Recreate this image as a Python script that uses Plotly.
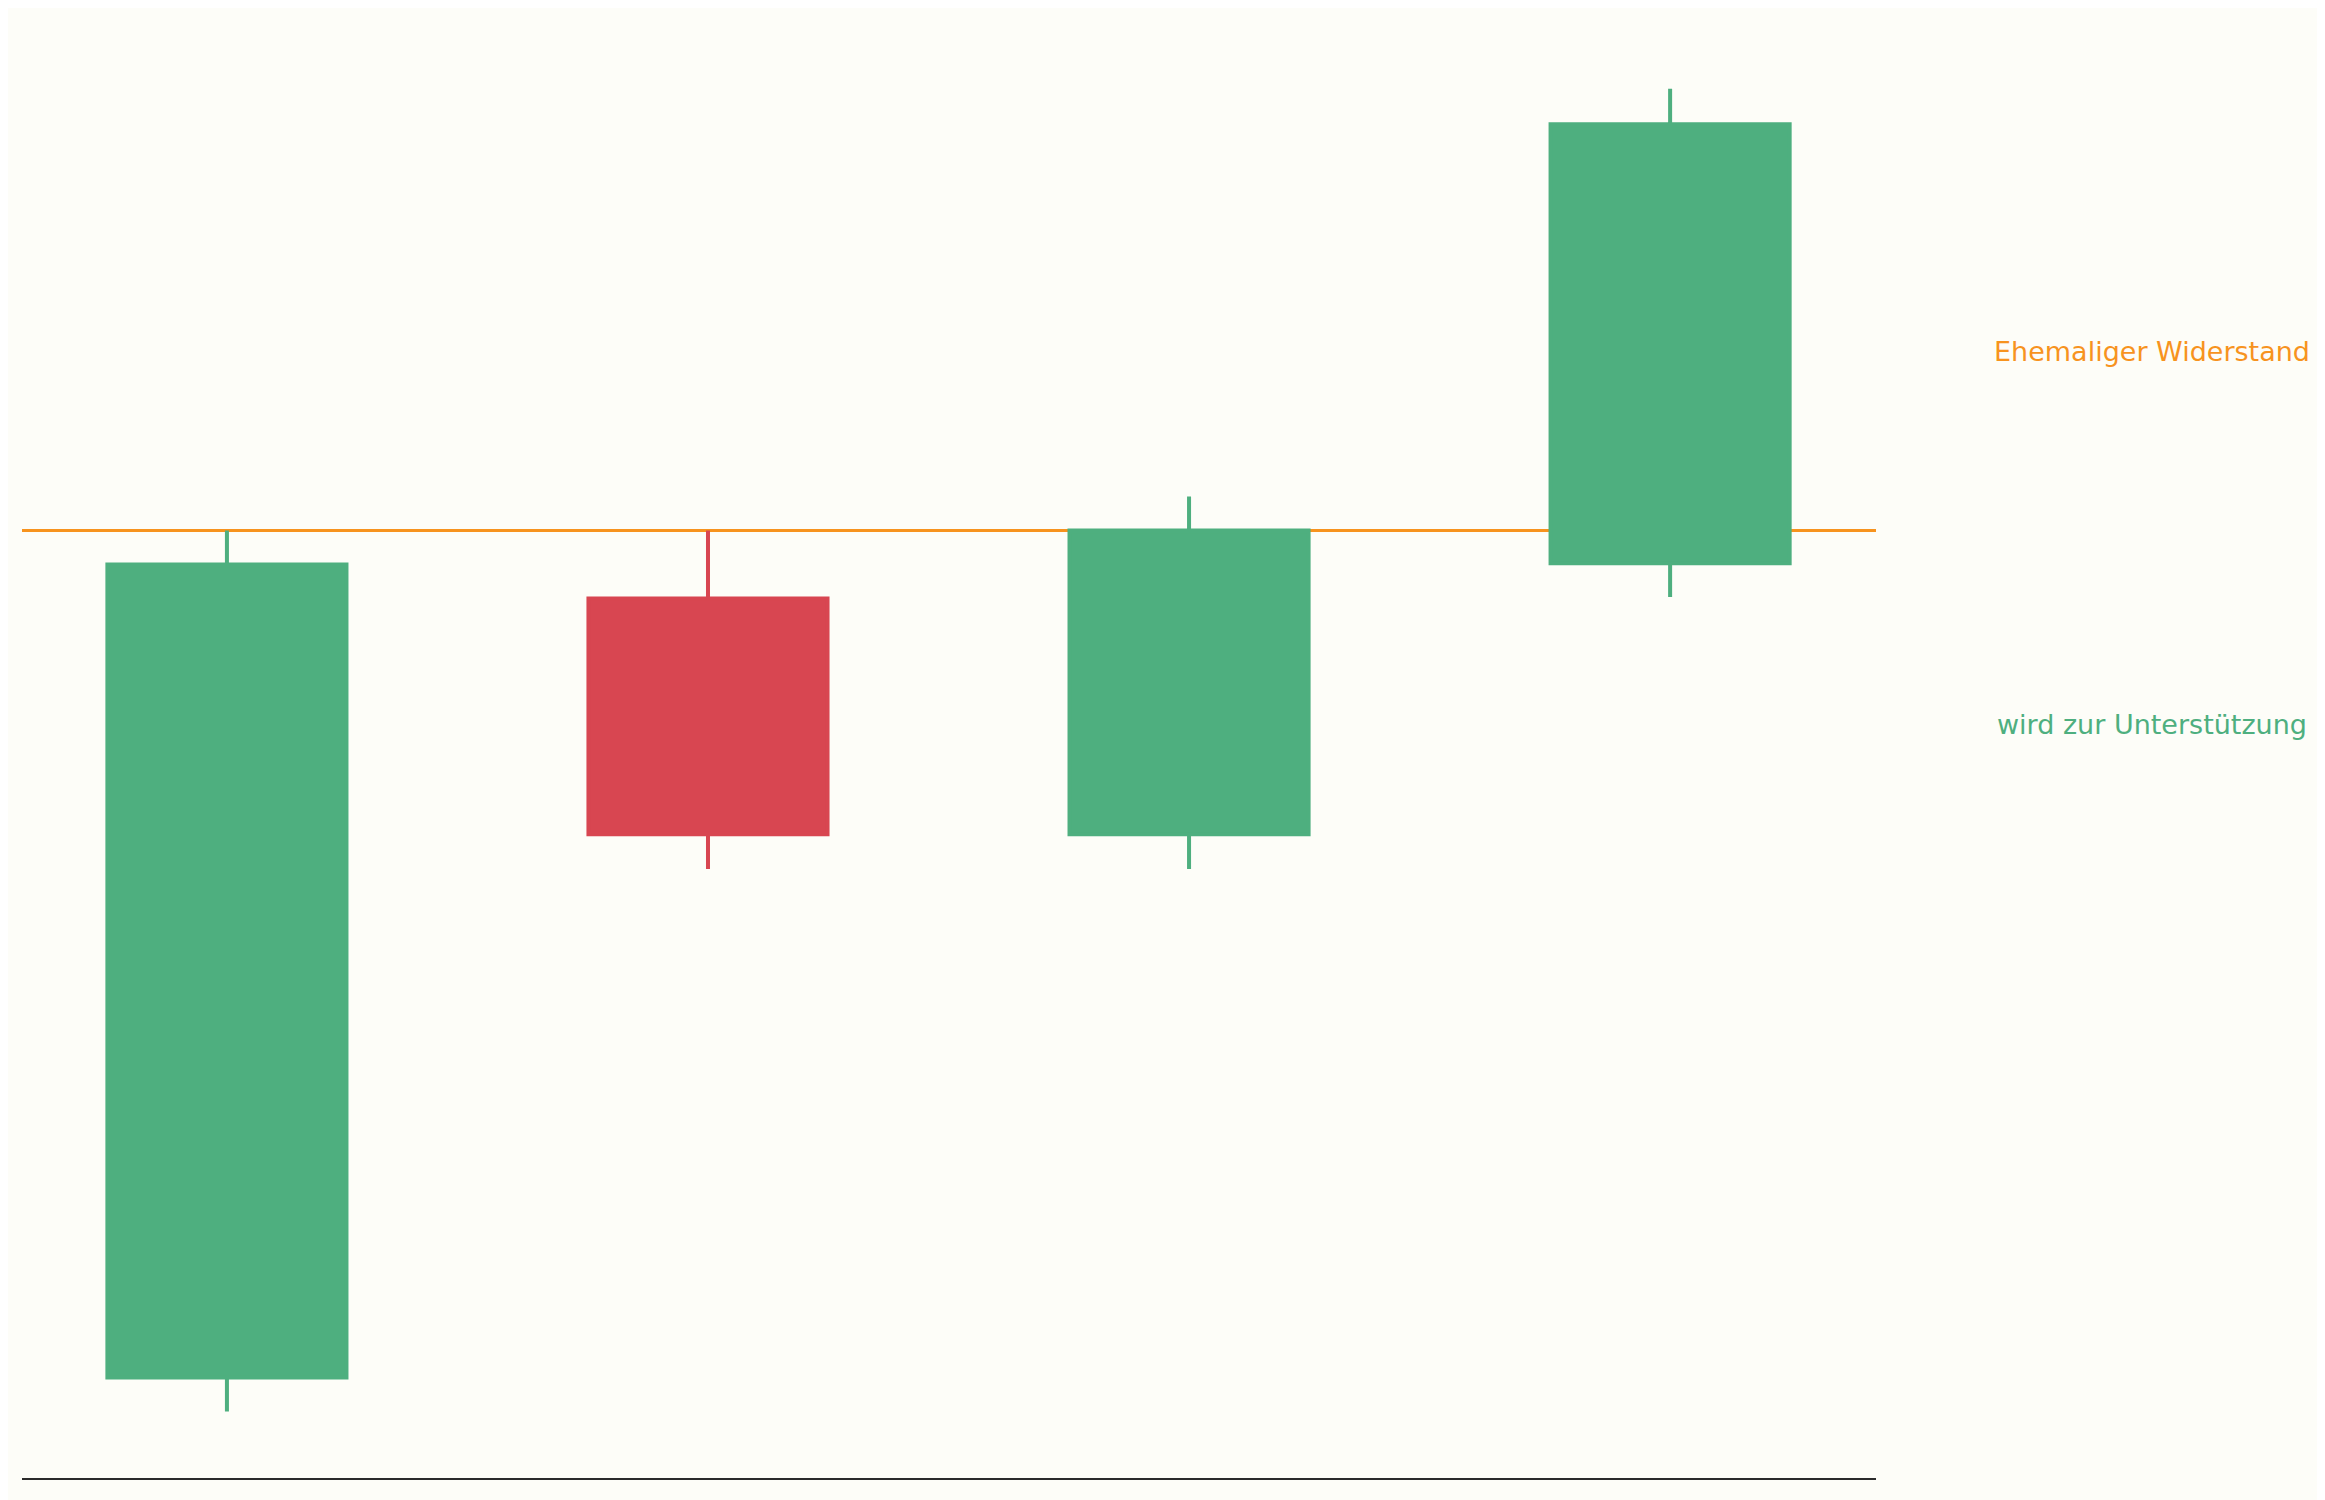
import plotly.graph_objects as go

# four candles, arbitrary price units
candles = [0, 1, 2, 3]
opens = [6.8, 59.5, 43.55, 61.9]
highs = [64.1, 64.1, 66.4, 94.0]
lows = [4.5, 41.2, 41.2, 59.6]
closes = [61.8, 43.55, 64.1, 91.6]

resistance = 64.1
label_texts = ["Ehemaliger Widerstand", "wird zur Unterstützung"]
label_levels = [76.25, 50.95]

green = "#4EAF7F"
red = "#D84651"
orange = "#F7931E"
bg = "#FDFDF8"

fig = go.Figure()

fig.add_trace(go.Candlestick(
    x=candles,
    open=opens,
    high=highs,
    low=lows,
    close=closes,
    increasing=dict(line=dict(color=green, width=4), fillcolor=green),
    decreasing=dict(line=dict(color=red, width=4), fillcolor=red),
    whiskerwidth=0,
    hoverinfo="skip",
    showlegend=False
))

fig.add_shape(
    type="line", xref="paper", x0=0, x1=1, y0=resistance, y1=resistance,
    line=dict(color=orange, width=3), layer="below"
)

fig.add_annotation(
    text=label_texts[0], xref="paper", x=1.1489, y=label_levels[0],
    xanchor="center", showarrow=False,
    font=dict(family="DejaVu Sans", size=27, color=orange)
)
fig.add_annotation(
    text=label_texts[1], xref="paper", x=1.1489, y=label_levels[1],
    xanchor="center", showarrow=False,
    font=dict(family="DejaVu Sans", size=27, color=green)
)

fig.update_xaxes(
    range=[-0.426, 3.428], showticklabels=False, showgrid=False, zeroline=False,
    showline=True, linecolor="#2b2b2b", linewidth=2, ticks="",
    rangeslider=dict(visible=False)
)
fig.update_yaxes(range=[0, 99.46], visible=False)

# page body adds an 8px offset, so margins are shifted to compensate
fig.update_layout(
    width=2325, height=1500,
    paper_bgcolor=bg, plot_bgcolor=bg,
    boxgap=0.503, boxgroupgap=0,
    margin={"l": 14, "r": 457, "t": 0, "b": 30}
)

fig.write_html("out.html")
